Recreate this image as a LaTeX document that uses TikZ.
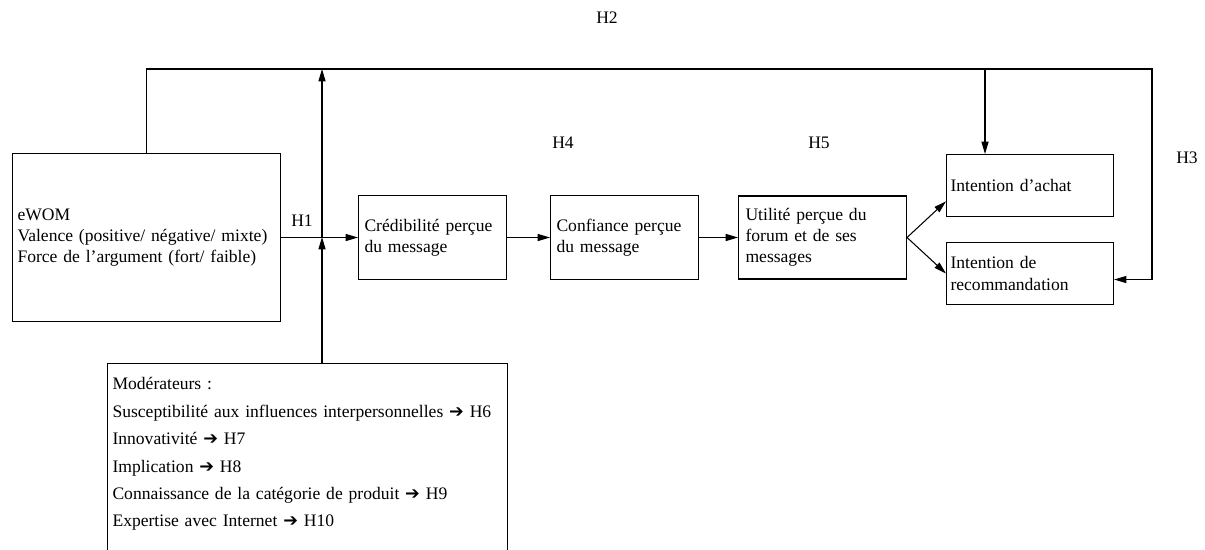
\documentclass[tikz,border=0pt]{standalone}
\usepackage{fontspec}
\setmainfont{Liberation Serif}
\newfontfamily\symfont{DejaVu Sans}
\usepackage{tikz}
\usetikzlibrary{arrows.meta, positioning, calc}
\newcommand{\implarrow}{{\symfont ➔}}

\begin{document}
\begin{tikzpicture}[
    x=0.02cm, y=-0.02cm,
    font=\fontsize{10}{12}\selectfont,
    box/.style={rectangle, draw=black, line width=0.6pt, align=left, inner xsep=0.12cm, inner ysep=0pt},
    arrow/.style={line width=0.6pt, ->, >={Triangle[length=7pt, width=4pt]}},
    hyp/.style={inner sep=0pt}
]
    \useasboundingbox (0,0) rectangle (1205,550);

    \node[box, anchor=north west, text width=5.16cm, inner xsep=0.1cm, minimum height=3.36cm] (ewom) at (12,153) {eWOM\\Valence (positive/ négative/ mixte)\\Force de l’argument (fort/ faible)};
    \node[box, text width=2.72cm, minimum height=1.68cm, right=1.54cm of ewom] (cred) {Crédibilité perçue\\du message};
    \node[box, text width=2.72cm, minimum height=1.68cm, right=0.86cm of cred] (conf) {Confiance perçue\\du message};
    \node[box, text width=3.08cm, inner xsep=0.14cm, minimum height=1.66cm, right=0.78cm of conf] (util) {Utilité perçue du\\forum et de ses\\messages};
    \node[box, anchor=north west, text width=3.18cm, inner xsep=0.08cm, minimum height=1.24cm] (achat) at (946,154) {Intention d’achat};
    \node[box, anchor=north west, text width=3.18cm, inner xsep=0.08cm, minimum height=1.24cm] (recom) at (946,242) {Intention de\\recommandation};
    \node[box, anchor=north west, text width=7.8cm, inner xsep=0.1cm, inner ysep=8pt] (mod) at (107,363) {Modérateurs :\\[3.6pt]
        Susceptibilité aux influences interpersonnelles \implarrow{} H6\\[3.6pt]
        Innovativité \implarrow{} H7\\[3.6pt]
        Implication \implarrow{} H8\\[3.6pt]
        Connaissance de la catégorie de produit \implarrow{} H9\\[3.6pt]
        Expertise avec Internet \implarrow{} H10\\[1cm]\strut};

    \node[hyp] (h1) at (302,221) {H1};
    \node[hyp] (h2) at (607,18) {H2};
    \node[hyp] (h3) at (1187,158) {H3};
    \node[hyp] (h4) at (563,143) {H4};
    \node[hyp] (h5) at (819,143) {H5};

    \coordinate (topright) at (1152,69);
    \coordinate (achatin) at (985,69);
    \coordinate (modin) at (322,237);

    \draw[arrow] (ewom) -- (cred);
    \draw[arrow] (cred) -- (conf);
    \draw[arrow] (conf) -- (util);
    \draw[arrow] (util.east) -- ($(achat.west)!0.5!(achat.south west)$);
    \draw[arrow] (util.east) -- (recom.west);
    \draw[arrow] (ewom.north) |- (topright) |- ($(recom.east)+(0,6)$);
    \draw[arrow] (achatin) -- (achatin |- achat.north);
    \draw[arrow] (modin |- mod.north) -- (modin);
    \draw[arrow] (modin) -- (modin |- topright);
\end{tikzpicture}
\end{document}
